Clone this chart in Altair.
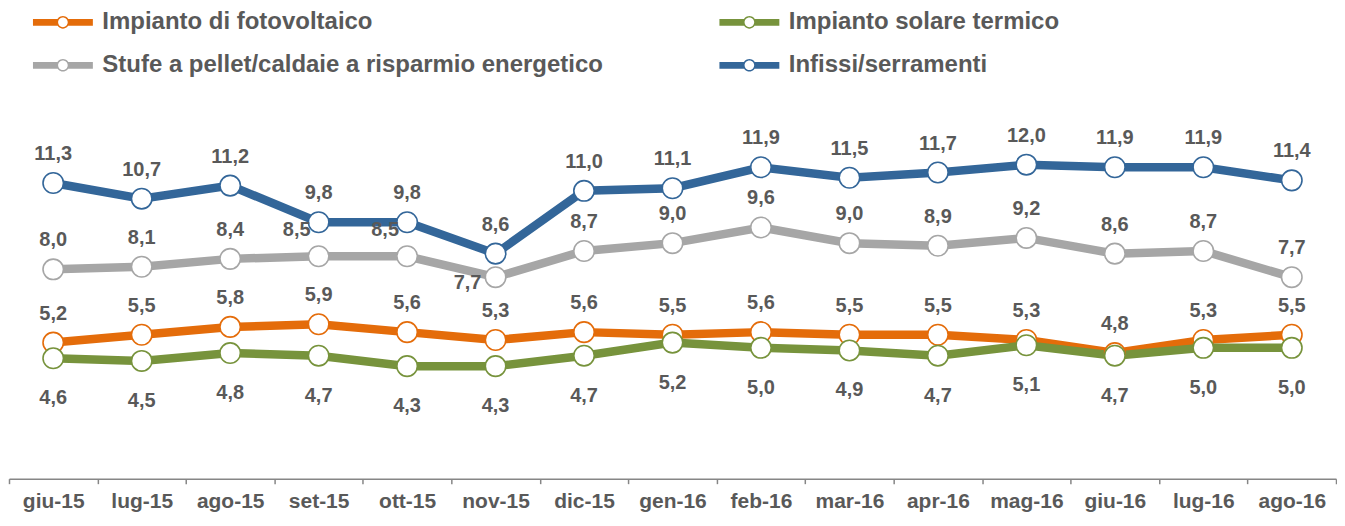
import altair as alt
import pandas as pd

months = ["giu-15", "lug-15", "ago-15", "set-15", "ott-15", "nov-15", "dic-15",
          "gen-16", "feb-16", "mar-16", "apr-16", "mag-16", "giu-16", "lug-16", "ago-16"]
series_names = ["Impianto di fotovoltaico", "Impianto solare termico",
                "Stufe a pellet/caldaie a risparmio energetico", "Infissi/serramenti"]
fotovoltaico = [5.2, 5.5, 5.8, 5.9, 5.6, 5.3, 5.6, 5.5, 5.6, 5.5, 5.5, 5.3, 4.8, 5.3, 5.5]
solare_termico = [4.6, 4.5, 4.8, 4.7, 4.3, 4.3, 4.7, 5.2, 5.0, 4.9, 4.7, 5.1, 4.7, 5.0, 5.0]
stufe = [8.0, 8.1, 8.4, 8.5, 8.5, 7.7, 8.7, 9.0, 9.6, 9.0, 8.9, 9.2, 8.6, 8.7, 7.7]
infissi = [11.3, 10.7, 11.2, 9.8, 9.8, 8.6, 11.0, 11.1, 11.9, 11.5, 11.7, 12.0, 11.9, 11.9, 11.4]
colors = ["#E46C0A", "#77933C", "#A6A6A6", "#336699"]

rows = []
for name, vals in zip(series_names, [fotovoltaico, solare_termico, stufe, infissi]):
    for m, v in zip(months, vals):
        rows.append({"month": m, "series": name, "value": v,
                     "label": f"{v:.1f}".replace(".", ",")})
df = pd.DataFrame(rows)

FONT = "Liberation Sans"
TEXT = "#595959"

# legend symbol: thick line with a hollow ring in the middle
LEG_PATH = ("M-3,-0.34H-0.48V0.34H-3Z "
            "M0.48,-0.34H3V0.34H0.48Z "
            "M-0.63,0A0.63,0.63 0 1 1 0.63,0A0.63,0.63 0 1 1 -0.63,0Z "
            "M-0.48,0A0.48,0.48 0 1 0 0.48,0A0.48,0.48 0 1 0 -0.48,0Z")

x = alt.X("month:N", sort=months,
          scale=alt.Scale(type="band", paddingInner=0, paddingOuter=0),
          axis=alt.Axis(title=None, labelAngle=0, tickBand="extent", grid=False,
                        domainColor="#868686", domainWidth=1.5,
                        tickColor="#868686", tickSize=5, tickWidth=1.5,
                        labelFont=FONT, labelFontSize=21, labelFontWeight="bold",
                        labelColor=TEXT, labelPadding=7))
y = alt.Y("value:Q", scale=alt.Scale(domain=[0, 14.5], nice=False), axis=None)
# stroke scale: domain from data sorted by series order (kept separate from the legend's colour scale)
stroke = alt.Stroke("series:N", sort=series_names, scale=alt.Scale(range=colors), legend=None)

base = alt.Chart(df)

lines = base.mark_line(strokeWidth=8.5).encode(x=x, y=y, stroke=stroke)
points = base.mark_point(filled=True, fill="white", size=420, strokeWidth=1.6,
                         opacity=1).encode(x=x, y=y, stroke=stroke)

legend_layer = base.mark_point(filled=True, shape=LEG_PATH, size=400, opacity=1).encode(
    x=x, y=y,
    color=alt.Color("series:N", scale=alt.Scale(domain=series_names, range=colors),
                    legend=alt.Legend(title=None, orient="top", offset=20,
                                      columns=2, columnPadding=93.5, rowPadding=19,
                                      symbolType=LEG_PATH, symbolSize=400,
                                      symbolStrokeWidth=0, symbolOpacity=1,
                                      symbolOffset=40,
                                      labelFont=FONT, labelFontSize=24,
                                      labelFontWeight="bold", labelColor=TEXT,
                                      labelOffset=27.5, labelLimit=700, padding=2))
).transform_filter("false")

txt = dict(font=FONT, fontSize=20, fontWeight="bold", color=TEXT, baseline="middle")

lab_above = base.mark_text(dy=-29, **txt).encode(x=x, y=y, text="label:N").transform_filter(
    "(datum.series == 'Impianto di fotovoltaico' || datum.series == 'Infissi/serramenti' || "
    "(datum.series == 'Stufe a pellet/caldaie a risparmio energetico' && "
    "datum.month != 'nov-15' && datum.month != 'set-15' && datum.month != 'ott-15'))")
lab_gray_left = base.mark_text(dy=-26, dx=-22, **txt).encode(x=x, y=y, text="label:N").transform_filter(
    "datum.series == 'Stufe a pellet/caldaie a risparmio energetico' && "
    "(datum.month == 'set-15' || datum.month == 'ott-15')")
lab_gray_below = base.mark_text(dy=6, dx=-28, **txt).encode(x=x, y=y, text="label:N").transform_filter(
    "datum.series == 'Stufe a pellet/caldaie a risparmio energetico' && datum.month == 'nov-15'")
lab_below = base.mark_text(dy=40, **txt).encode(x=x, y=y, text="label:N").transform_filter(
    "datum.series == 'Impianto solare termico'")

chart = alt.layer(lines, points, legend_layer, lab_above, lab_gray_left, lab_gray_below, lab_below).properties(
    width=1329, height=380,
    padding={"left": 0, "top": 0, "right": 0, "bottom": 0}
).configure_view(strokeWidth=0)

chart.save("out.html", embed_options={"renderer": "svg", "actions": False})
